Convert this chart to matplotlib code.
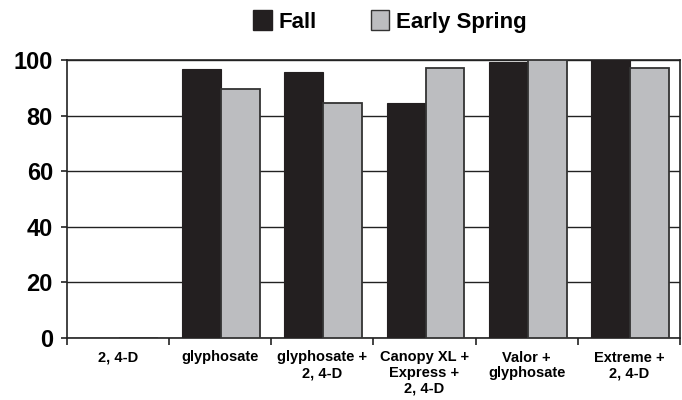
import numpy as np
import matplotlib.pyplot as plt
from matplotlib.patches import Patch

plt.rcParams['font.family'] = ['Liberation Sans Narrow', 'Liberation Sans', 'DejaVu Sans']

categories = ["2, 4-D", "glyphosate", "glyphosate +\n2, 4-D", "Canopy XL +\nExpress +\n2, 4-D",
              "Valor +\nglyphosate", "Extreme +\n2, 4-D"]
fall = [0, 96.8, 95.7, 84.5, 99.3, 100]
early_spring = [0, 89.6, 84.5, 97.1, 100, 97.0]

black = "#231f20"
gray = "#bcbdc0"

fig = plt.figure(figsize=(6.82, 4.0), dpi=100)
ax = fig.add_axes([0.098, 0.155, 0.899, 0.695])

x = np.arange(len(categories))
w = 0.38
ax.bar(x - w / 2 + 0.01, fall, w, color=black, edgecolor=black, linewidth=0.8, zorder=3)
ax.bar(x + w / 2 + 0.01, early_spring, w, color=gray, edgecolor="#333333", linewidth=1.3, zorder=3)

ax.set_xlim(-0.5, len(categories) - 0.5)
ax.set_ylim(0, 100)
ax.set_yticks([0, 20, 40, 60, 80, 100])
ax.yaxis.grid(True, color="#222222", linewidth=1.0, zorder=0)
ax.set_axisbelow(True)

ax.set_xticks(x)
ax.set_xticklabels(categories, fontsize=10.5, fontweight="bold", linespacing=1.15)
ax.set_xticks(np.arange(len(categories) + 1) - 0.5, minor=True)
ax.tick_params(axis="x", which="major", length=0, pad=9)
ax.tick_params(axis="x", which="minor", length=5, width=1.2, color="#222222")
ax.tick_params(axis="y", length=4, width=1.2, color="#222222", labelsize=17, pad=6)
for lab in ax.get_yticklabels():
    lab.set_fontweight("bold")

for s in ax.spines.values():
    s.set_color("#222222")
    s.set_linewidth(1.2)

handles = [Patch(facecolor=black, edgecolor=black), Patch(facecolor=gray, edgecolor="#333333", linewidth=1.0)]
fig.legend(handles, ["Fall", "Early Spring"], loc="upper center", bbox_to_anchor=(0.572, 1.025),
           ncol=2, frameon=False, prop={"weight": "bold", "size": 16},
           handlelength=0.85, handleheight=1.0, handletextpad=0.3, columnspacing=2.4)

fig.savefig("out.png", dpi=100)
